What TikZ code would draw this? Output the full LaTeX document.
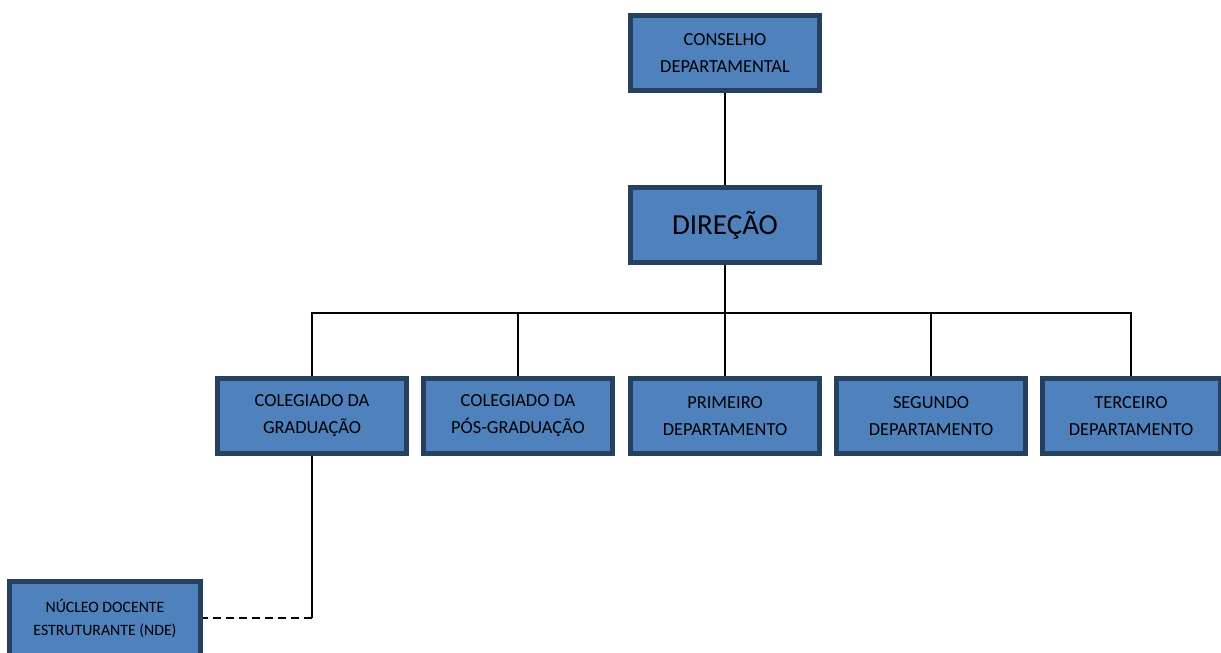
\documentclass[tikz,border=0pt]{standalone}
\usepackage{fontspec}
\setmainfont{Carlito}
\definecolor{boxfill}{RGB}{79,129,189}
\definecolor{boxline}{RGB}{38,64,96}

\begin{document}
\begin{tikzpicture}[x=0.5pt,y=-0.5pt]
		\tikzset{
			basefont/.style = {font = \fontsize{9.2}{13.5}\selectfont},
			unit/.style = {basefont, draw = boxline, fill = boxfill, line width = 2.5pt, align = center, inner sep = 0pt, minimum width = 94.5pt, minimum height = 37.5pt},
			head/.style = {unit, font = \fontsize{14.5}{17}\selectfont},
			small/.style = {unit, font = \fontsize{7.9}{11.5}\selectfont, minimum width = 95.5pt, minimum height = 37pt},
			link/.style = {line width = 1pt, black},
			weak/.style = {link, dash pattern = on 4pt off 2.5pt},
		};

		\useasboundingbox (0,0) rectangle (1221,653);

		\node[unit] (conselho) at (725,53) {CONSELHO\\DEPARTAMENTAL};
		\node[head] (direcao) at (725,225) {DIREÇÃO};

		\node[unit] (grad) at (312,416) {COLEGIADO DA\\GRADUAÇÃO};
		\node[unit] (pos) at (518,416) {COLEGIADO DA\\PÓS-GRADUAÇÃO};
		\node[unit] (dep1) at (725,416) {PRIMEIRO\\DEPARTAMENTO};
		\node[unit] (dep2) at (931,416) {SEGUNDO\\DEPARTAMENTO};
		\node[unit, minimum width = 89pt] (dep3) at (1131,416) {TERCEIRO\\DEPARTAMENTO};

		\node[small] (nde) at (105,618) {NÚCLEO DOCENTE\\ESTRUTURANTE (NDE)};

		\coordinate (bus) at (725,313);
		\coordinate (ndecorner) at (grad.south |- nde.east);

		\draw[link] (conselho) -- (direcao);
		\draw[link] (direcao) -- (bus);
		\draw[link] (grad.north) |- (bus) -| (dep3.north);
		\draw[link] (pos.north) -- (pos.north |- bus);
		\draw[link] (dep1.north) -- (bus);
		\draw[link] (dep2.north) -- (dep2.north |- bus);
		\draw[link] (grad.south) -- (ndecorner);
		\draw[weak] (ndecorner) -- (nde.east);
	\end{tikzpicture}
\end{document}
